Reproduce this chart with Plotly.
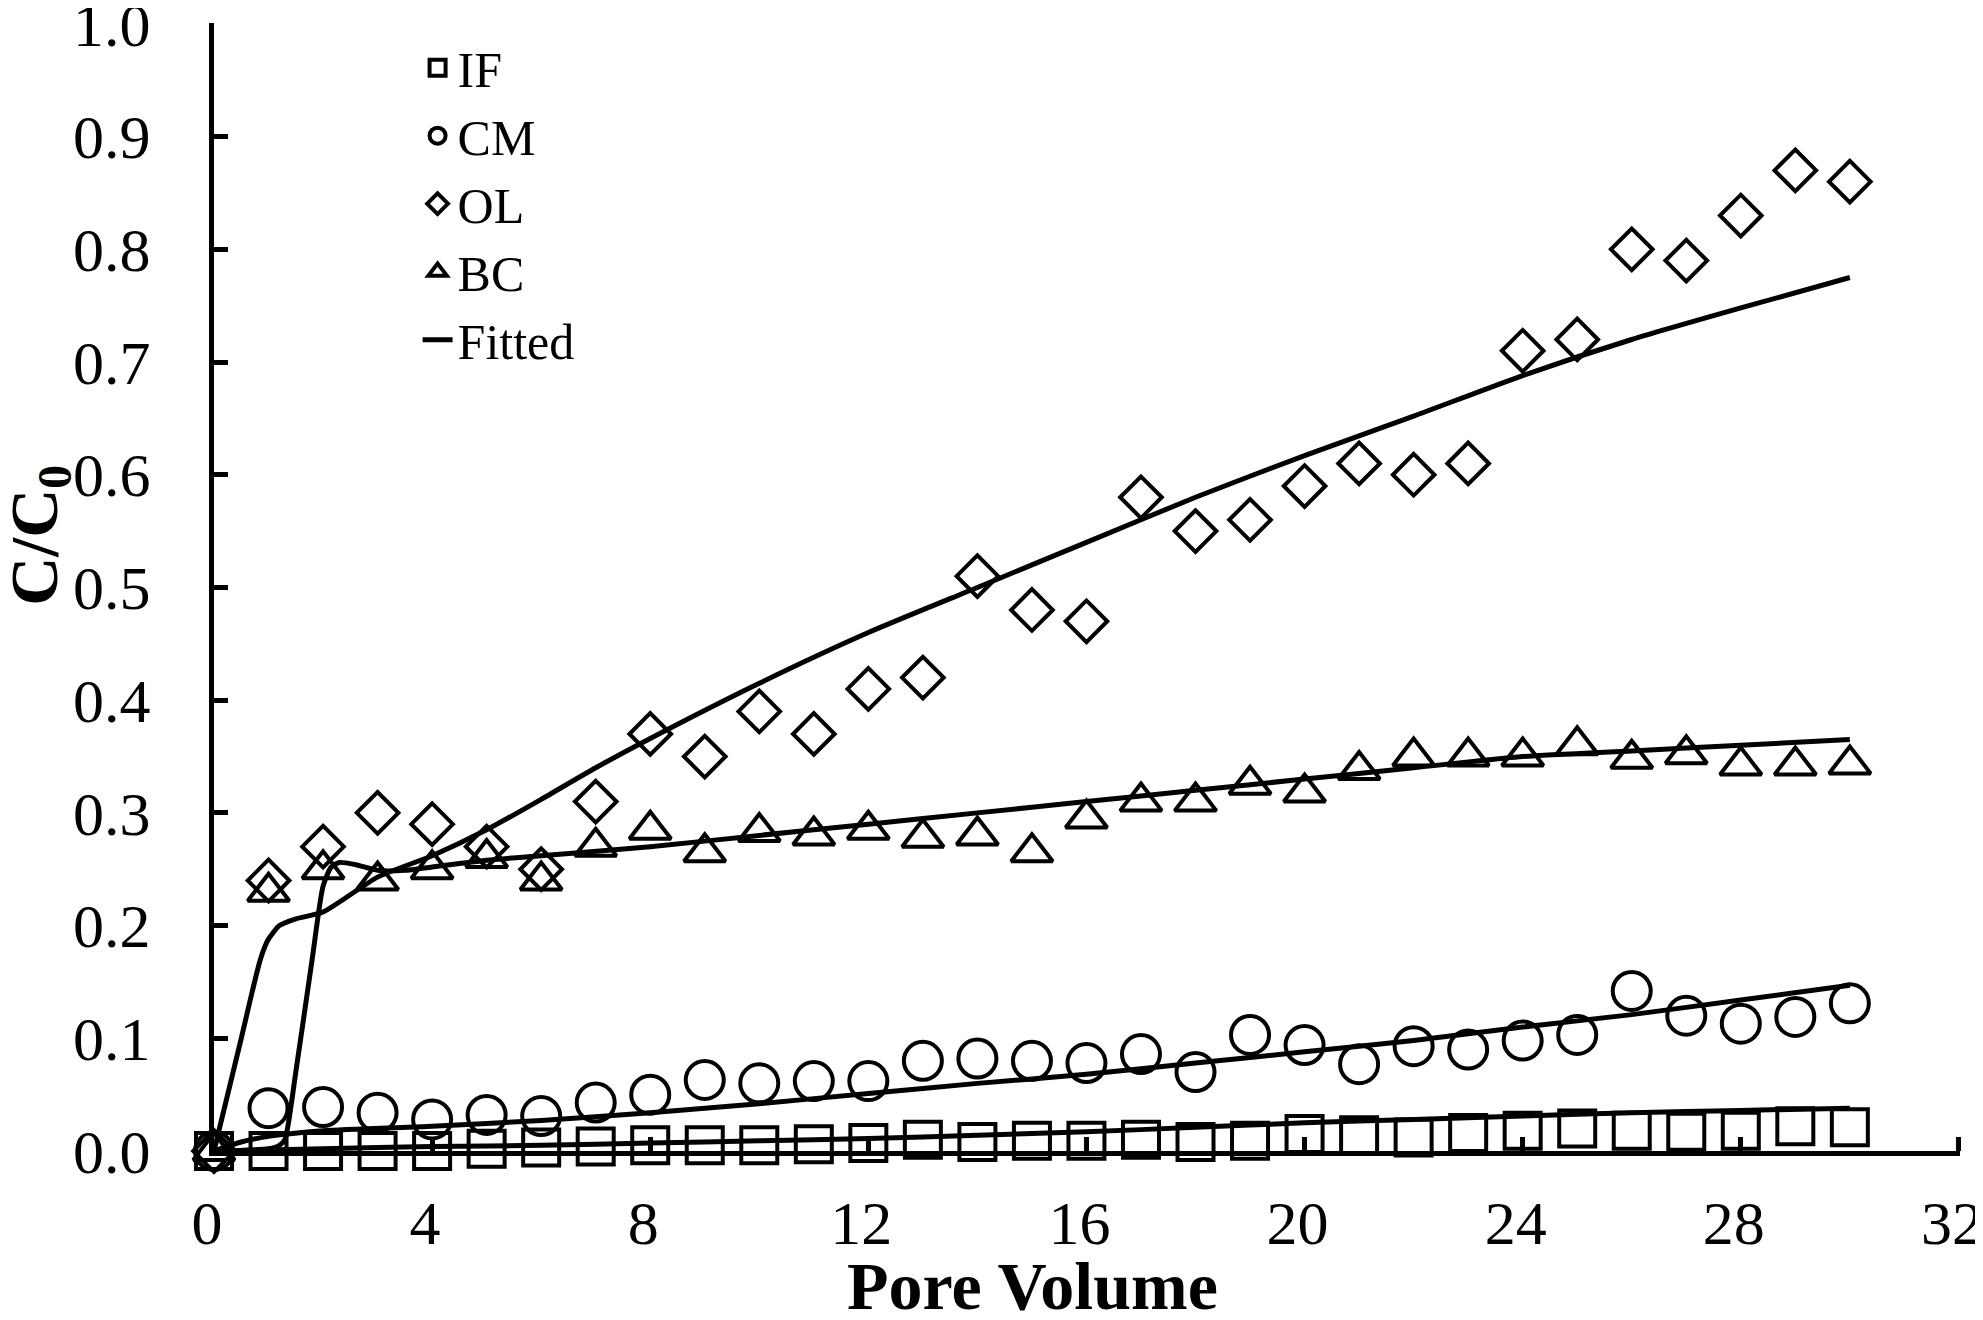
import plotly.graph_objects as go

# pore volumes for the measured points
pv = list(range(0, 31))

if_vals = [0.0, 0.0, 0.0, 0.0, 0.0, 0.002, 0.003, 0.004, 0.005, 0.005, 0.005,
           0.006, 0.007, 0.01, 0.008, 0.009, 0.009, 0.01, 0.008, 0.009, 0.015,
           0.014, 0.012, 0.016, 0.018, 0.02, 0.018, 0.017, 0.018, 0.022, 0.021]
cm_vals = [0.0, 0.038, 0.039, 0.034, 0.028, 0.032, 0.031, 0.043, 0.05, 0.063, 0.06,
           0.062, 0.062, 0.08, 0.082, 0.08, 0.078, 0.086, 0.07, 0.103, 0.094,
           0.077, 0.093, 0.09, 0.098, 0.103, 0.142, 0.12, 0.113, 0.119, 0.131]
ol_vals = [0.0, 0.24, 0.27, 0.30, 0.29, 0.27, 0.25, 0.31, 0.37, 0.35, 0.39,
           0.37, 0.41, 0.42, 0.51, 0.48, 0.47, 0.58, 0.55, 0.56, 0.59,
           0.61, 0.60, 0.61, 0.71, 0.72, 0.80, 0.79, 0.83, 0.87, 0.86]
bc_vals = [0.0, 0.23, 0.25, 0.24, 0.25, 0.26, 0.24, 0.27, 0.285, 0.265, 0.283,
           0.28, 0.285, 0.278, 0.28, 0.265, 0.295, 0.31, 0.31, 0.325, 0.318,
           0.338, 0.35, 0.35, 0.35, 0.36, 0.348, 0.352, 0.342, 0.342, 0.343]

# fitted curves
fit_if_x = [0, 2, 4, 6, 8, 10, 12, 14, 16, 18, 20, 22, 24, 26, 28, 30]
fit_if_y = [0, 0.002, 0.004, 0.005, 0.007, 0.009, 0.011, 0.014, 0.017, 0.021,
            0.025, 0.028, 0.031, 0.034, 0.036, 0.038]
fit_cm_x = [0, 0.5, 1, 2, 4, 6, 8, 10, 12, 14, 16, 18, 20, 22, 24, 26, 28, 30]
fit_cm_y = [0, 0.008, 0.013, 0.018, 0.022, 0.027, 0.034, 0.042, 0.051, 0.06,
            0.068, 0.078, 0.088, 0.098, 0.11, 0.121, 0.134, 0.147]
fit_ol_x = [0, 0.5, 0.85, 1.0, 1.2, 1.5, 2, 3, 4, 5, 6, 7, 8, 10, 12, 14, 16,
            18, 20, 22, 24, 26, 28, 30]
fit_ol_y = [0, 0.1, 0.17, 0.188, 0.2, 0.206, 0.212, 0.243, 0.262, 0.285,
            0.312, 0.34, 0.366, 0.415, 0.46, 0.5, 0.54, 0.58, 0.617, 0.652,
            0.688, 0.72, 0.748, 0.775]
fit_bc_x = [0, 1.0, 1.2, 1.3, 1.5, 1.8, 2.0, 2.15, 2.3, 2.6, 3.0, 3.5, 4, 5, 6,
            8, 10, 12, 14, 16, 18, 20, 22, 24, 26, 28, 30]
fit_bc_y = [0, 0.002, 0.005, 0.01, 0.07, 0.17, 0.235, 0.252, 0.256, 0.254,
            0.249, 0.249, 0.252, 0.258, 0.262, 0.27, 0.28, 0.29, 0.3, 0.31,
            0.32, 0.33, 0.34, 0.35, 0.355, 0.36, 0.365]

FONT = "Liberation Serif"

fig = go.Figure()


def add_points(name, y, symbol, size):
    fig.add_trace(go.Scatter(
        x=pv, y=y, mode="markers", name=name, cliponaxis=False,
        marker=dict(symbol=symbol, size=size, color="black",
                    line=dict(color="black", width=4))))


add_points("IF", if_vals, "square-open", 36)
add_points("CM", cm_vals, "circle-open", 38)
add_points("OL", ol_vals, "diamond-open", 32)
add_points("BC", bc_vals, "triangle-up-open", 36)

fits = [(fit_if_x, fit_if_y), (fit_cm_x, fit_cm_y),
        (fit_ol_x, fit_ol_y), (fit_bc_x, fit_bc_y)]
for i, (fx, fy) in enumerate(fits):
    fig.add_trace(go.Scatter(
        x=fx, y=fy, mode="lines", name="Fitted", showlegend=(i == 0),
        line=dict(color="black", width=5, shape="spline", smoothing=0.6),
        cliponaxis=False))

# page body has an 8px margin, so the figure is 8px smaller than the window
fig.update_layout(
    width=1975, height=1312,
    margin=dict(l=206, r=23, t=15, b=169, autoexpand=False),
    plot_bgcolor="white", paper_bgcolor="white",
    font=dict(family=FONT, size=62, color="black"),
    legend=dict(x=0.1166, y=0.995, xanchor="left", yanchor="top",
                bgcolor="rgba(0,0,0,0)", font=dict(size=50),
                tracegroupgap=0, itemsizing="trace"),
)
fig.update_xaxes(
    range=[0, 32.02], tick0=0, dtick=4, showline=True, linecolor="black",
    linewidth=5, ticks="inside", ticklen=14, tickwidth=5, tickcolor="black",
    showgrid=False, zeroline=False, ticklabelstandoff=14,
    ticklabelshift=-7, ticklabeloverflow="allow",
)
fig.update_yaxes(
    range=[0, 1.0008], tick0=0, dtick=0.1, tickformat=".1f", showline=True,
    linecolor="black", linewidth=5, ticks="inside", ticklen=14, tickwidth=5,
    tickcolor="black", showgrid=False, zeroline=False, ticklabelstandoff=46,
    ticklabeloverflow="allow",
)

# axis titles placed as annotations to match the original position
fig.add_annotation(text="<b>Pore Volume</b>", xref="paper", yref="paper",
                   x=0.469, y=-0.12, xanchor="center", yanchor="middle",
                   showarrow=False, font=dict(size=68))
fig.add_annotation(text="<b>C/C<sub>0</sub></b>", xref="paper", yref="paper",
                   x=-0.101, y=0.546, xanchor="center", yanchor="middle",
                   textangle=-90, showarrow=False, font=dict(size=68))

fig.write_html("out.html")
